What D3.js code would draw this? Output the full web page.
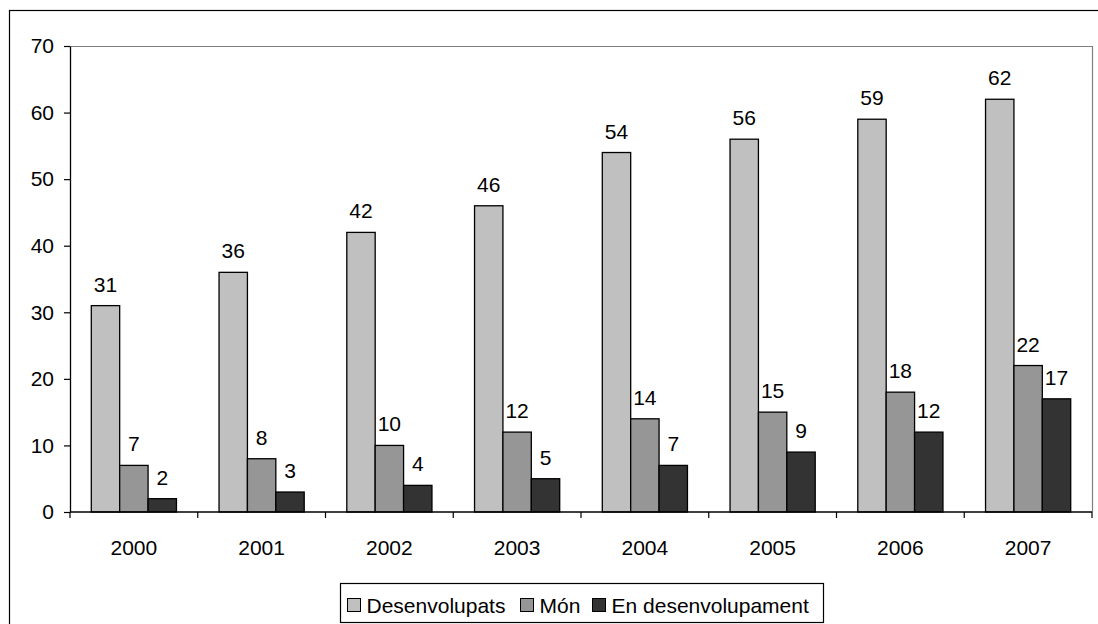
<!DOCTYPE html>
<html>
<head>
<meta charset="utf-8">
<script src="https://cdn.jsdelivr.net/npm/d3@7"></script>
<style>
  body { margin: 0; background: #fff; }
  svg text { font-family: "Liberation Sans", Arial, sans-serif; fill: #000; }
</style>
</head>
<body>
<div id="chart"></div>
<script>
// Data
const years = ["2000", "2001", "2002", "2003", "2004", "2005", "2006", "2007"];
const seriesNames = ["Desenvolupats", "Món", "En desenvolupament"];
const desenvolupats = [31, 36, 42, 46, 54, 56, 59, 62];
const mon = [7, 8, 10, 12, 14, 15, 18, 22];
const enDesenvolupament = [2, 3, 4, 5, 7, 9, 12, 17];
const yTicks = [0, 10, 20, 30, 40, 50, 60, 70];
const colors = ["#c0c0c0", "#969696", "#333333"];

const W = 1098, H = 624;
const plot = { left: 70, right: 1092, top: 46, bottom: 512 };

const svg = d3.select("#chart").append("svg")
    .attr("width", W)
    .attr("height", H);

// outer chart border (runs off the bottom/right edge like the reference)
svg.append("rect")
    .attr("x", 9.5).attr("y", 10.5)
    .attr("width", W + 20).attr("height", H + 20)
    .attr("fill", "#fff")
    .attr("stroke", "#000")
    .attr("stroke-width", 1.2);

// scales
const x0 = d3.scaleBand()
    .domain(years)
    .range([plot.left, plot.right])
    .paddingInner(1 / 3)
    .paddingOuter(1 / 6);

const x1 = d3.scaleBand()
    .domain(seriesNames)
    .range([0, x0.bandwidth()]);

const y = d3.scaleLinear()
    .domain([0, 70])
    .range([plot.bottom, plot.top]);

// plot area border (top and right, grey)
svg.append("path")
    .attr("d", `M${plot.left},${plot.top + 0.5}H${plot.right + 0.5}V${plot.bottom}`)
    .attr("fill", "none")
    .attr("stroke", "#808080")
    .attr("stroke-width", 1.2);

// bars
const rows = years.map((yr, i) => ({
    year: yr,
    values: [desenvolupats[i], mon[i], enDesenvolupament[i]]
}));

const groups = svg.append("g").selectAll("g")
    .data(rows)
    .join("g")
    .attr("transform", d => `translate(${x0(d.year)},0)`);

groups.selectAll("rect")
    .data(d => d.values.map((v, k) => ({ name: seriesNames[k], value: v, k })))
    .join("rect")
    .attr("x", d => x1(d.name))
    .attr("y", d => y(d.value))
    .attr("width", x1.bandwidth())
    .attr("height", d => y(0) - y(d.value))
    .attr("fill", d => colors[d.k])
    .attr("stroke", "#000")
    .attr("stroke-width", 1.3);

groups.selectAll("text")
    .data(d => d.values.map((v, k) => ({ name: seriesNames[k], value: v })))
    .join("text")
    .attr("x", d => x1(d.name) + x1.bandwidth() / 2)
    .attr("y", d => y(d.value) - 14)
    .attr("text-anchor", "middle")
    .attr("font-size", "21px")
    .text(d => d.value);

// y axis
const yAxis = svg.append("g")
    .attr("transform", `translate(${plot.left},0)`)
    .call(d3.axisLeft(y).tickValues(yTicks).tickSize(6).tickPadding(10).tickSizeOuter(0));
yAxis.select(".domain").attr("stroke", "#000").attr("stroke-width", 1.3);
yAxis.selectAll("line").attr("stroke", "#000").attr("stroke-width", 1.2);
yAxis.selectAll("text").attr("font-size", "21px").attr("font-family", "Liberation Sans, Arial, sans-serif");

// x axis line and category ticks between groups
svg.append("line")
    .attr("x1", plot.left).attr("x2", plot.right)
    .attr("y1", plot.bottom).attr("y2", plot.bottom)
    .attr("stroke", "#000").attr("stroke-width", 1.3);

const step = x0.step();
svg.append("g").selectAll("line")
    .data(d3.range(years.length + 1))
    .join("line")
    .attr("x1", i => plot.left + i * step)
    .attr("x2", i => plot.left + i * step)
    .attr("y1", plot.bottom)
    .attr("y2", plot.bottom + 6)
    .attr("stroke", "#000").attr("stroke-width", 1.2);

svg.append("g").selectAll("text")
    .data(years)
    .join("text")
    .attr("x", d => x0(d) + x0.bandwidth() / 2)
    .attr("y", plot.bottom + 43)
    .attr("text-anchor", "middle")
    .attr("font-size", "21px")
    .text(d => d);

// legend
const legend = svg.append("g").attr("transform", "translate(340,583)");
legend.append("rect")
    .attr("x", 0.5).attr("y", 0.5)
    .attr("width", 483).attr("height", 39)
    .attr("fill", "#fff")
    .attr("stroke", "#000")
    .attr("stroke-width", 1.2);

const legendX = [7.5, 180.5, 252.5];
seriesNames.forEach((name, k) => {
    legend.append("rect")
        .attr("x", legendX[k]).attr("y", 15.5)
        .attr("width", 13).attr("height", 13)
        .attr("fill", colors[k])
        .attr("stroke", "#000")
        .attr("stroke-width", 1);
    legend.append("text")
        .attr("x", legendX[k] + 19)
        .attr("y", 30)
        .attr("font-size", "21px")
        .text(name);
});
</script>
</body>
</html>
